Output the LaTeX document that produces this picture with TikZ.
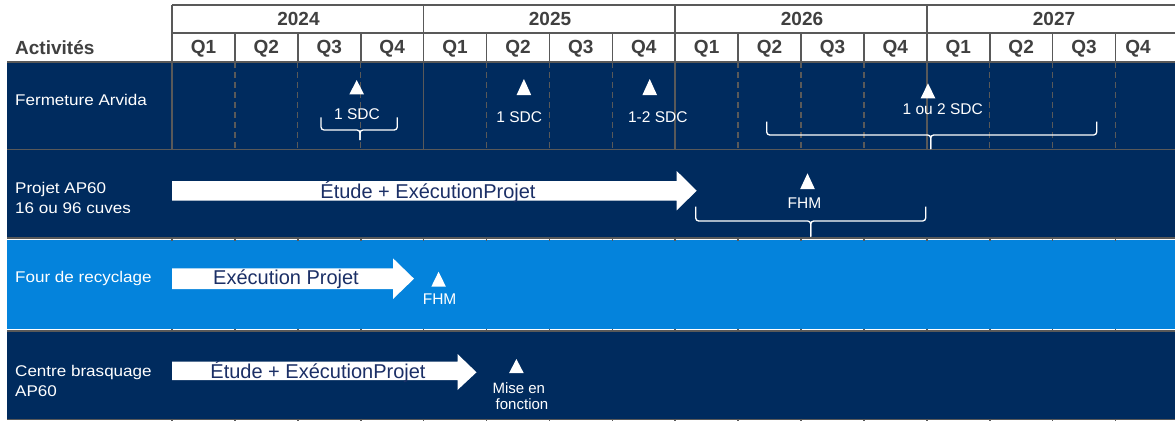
\documentclass[tikz,border=0pt]{standalone}
\usepackage{fontspec}
\setmainfont{Liberation Sans}
\newfontfamily\lblfont{Liberation Sans}[FakeStretch=1.1]
\definecolor{navy}{HTML}{002B5E}
\definecolor{lblue}{HTML}{0483DC}
\definecolor{gridgray}{HTML}{595959}
\definecolor{hdrtext}{HTML}{404040}
\definecolor{arrtext}{HTML}{1B2F66}
\newcommand{\mstri}[3]{\fill[white] (#1-7.3,#3) -- (#1+7.3,#3) -- (#1,#2) -- cycle;}
\begin{document}
\begin{tikzpicture}[x=1pt,y=-1pt,
  hdr/.style={font=\fontsize{19}{22}\selectfont\bfseries, text=hdrtext, inner sep=0, anchor=base},
  rowlbl/.style={font=\lblfont\fontsize{15.5}{19}\selectfont, text=white, inner sep=0, anchor=base west},
  mslbl/.style={font=\fontsize{15.5}{18}\selectfont, text=white, inner sep=0, anchor=base},
  arrtxt/.style={font=\fontsize{20}{24}\selectfont, text=arrtext, inner sep=0, anchor=base},
  gridline/.style={draw=gridgray, line width=1.6},
  dashline/.style={draw=gridgray, line width=1.3, dash pattern=on 6 off 4},
  bracket/.style={draw=white, line width=1.3, rounded corners=3},
  arrowbody/.style={fill=white}]
\useasboundingbox (0,0) rectangle (1175,421);
\fill[white] (0,0) rectangle (1175,421);

% rows
\fill[navy] (7,62) rectangle (1175,149.5);
\fill[navy] (7,149.5) rectangle (1175,238);
\fill[lblue] (7,239.8) rectangle (1175,329.2);
\fill[navy] (7,331) rectangle (1175,419.5);

% header grid
\draw[gridline] (172,5) -- (1175,5);
\draw[gridline] (172,33) -- (1175,33);
\foreach \i in {0,4,8,12} \draw[gridline] ({172+62.9*\i},5) -- ({172+62.9*\i},62);
\foreach \i in {1,2,3,5,6,7,9,10,11,13,14,15} \draw[gridline] ({172+62.9*\i},33) -- ({172+62.9*\i},62);
\draw[gridline] (7,62) -- (1175,62);

% row 1 grid
\foreach \i in {0,4,8,12} \draw[gridline] ({172+62.9*\i},62) -- ({172+62.9*\i},149.5);
\foreach \i in {1,2,3,5,6,7,9,10,11,13,14,15} \draw[dashline] ({172+62.9*\i},62) -- ({172+62.9*\i},149.5);

% row separators
\draw[gridline] (7,149.5) -- (1175,149.5);
\draw[gridline] (7,238) -- (1175,238);
\draw[white, line width=0.9] (7,239.6) -- (1175,239.6);
\draw[white, line width=0.9] (7,329.4) -- (1175,329.4);
\draw[gridline] (7,331.2) -- (1175,331.2);
\draw[gridline] (7,419.5) -- (1175,419.5);
\draw[white, line width=0.9] (7,420.7) -- (1175,420.7);
\foreach \i in {0,...,15} {
  \draw[gridline] ({172+62.9*\i},237) -- ({172+62.9*\i},240.5);
  \draw[gridline] ({172+62.9*\i},328.5) -- ({172+62.9*\i},332);
  \draw[gridline] ({172+62.9*\i},418.5) -- ({172+62.9*\i},421);
}

% header text
\node[hdr, anchor=base west] (act) at (15,54) {Activités};
\node[hdr] (y24) at (298.5,25) {2024};
\node[hdr] (y25) at (550,25) {2025};
\node[hdr] (y26) at (802,25) {2026};
\node[hdr] (y27) at (1054,25) {2027};
\foreach \i/\q in {0/Q1,1/Q2,2/Q3,3/Q4,4/Q1,5/Q2,6/Q3,7/Q4,8/Q1,9/Q2,10/Q3,11/Q4,12/Q1,13/Q2,14/Q3}
  \node[hdr] (q\i) at ({172+62.9*(\i+0.5)},53.5) {\q};
\node[hdr] (q15) at (1138,53.5) {Q4};

% row labels
\node[rowlbl] (r1) at (15,105) {Fermeture Arvida};
\node[rowlbl] (r2a) at (15,193) {Projet AP60};
\node[rowlbl] (r2b) at (15,213) {16 ou 96 cuves};
\node[rowlbl] (r3) at (15,282.5) {Four de recyclage};
\node[rowlbl] (r4a) at (15,376) {Centre brasquage};
\node[rowlbl] (r4b) at (15,396) {AP60};

% arrows
\path[arrowbody] (172,181) -- (676.7,181) -- (676.7,171) -- (696.7,190.7) -- (676.7,210.3) -- (676.7,200.7) -- (172,200.7) -- cycle;
\path[arrowbody] (172,268.3) -- (393,268.3) -- (393,258.3) -- (414,278.7) -- (393,299) -- (393,289) -- (172,289) -- cycle;
\path[arrowbody] (172,361.7) -- (457.5,361.7) -- (457.5,354) -- (476.5,372.3) -- (457.5,390) -- (457.5,380) -- (172,380) -- cycle;
\node[arrtxt] (a2) at (428,198.3) {Étude + ExécutionProjet};
\node[arrtxt] (a3) at (286,284.5) {Exécution Projet};
\node[arrtxt] (a4) at (318,378.5) {Étude + ExécutionProjet};

% milestones
\mstri{356.7}{80}{94.3}
\mstri{523.9}{79}{95}
\mstri{649.7}{79}{95}
\mstri{928}{83.3}{98.3}
\mstri{807.5}{173.3}{189}
\mstri{438.6}{271.7}{286.7}
\mstri{516.4}{359}{373}

\node[mslbl] (m1) at (357,119) {1 SDC};
\node[mslbl] (m2) at (519.3,122.7) {1 SDC};
\node[mslbl] (m3) at (657.8,122.7) {1-2 SDC};
\node[mslbl] (m4) at (942.7,114.3) {1 ou 2 SDC};
\node[mslbl] (m5) at (804.5,208.3) {FHM};
\node[mslbl] (m6) at (439.6,304) {FHM};
\node[mslbl, font=\fontsize{15}{18}\selectfont] (m7a) at (518.8,393.3) {Mise en};
\node[mslbl, font=\fontsize{15}{18}\selectfont] (m7b) at (522,409) {fonction};

% brackets
\draw[bracket] (321,117.3) -- (321,130) -- (360,130) -- (360,140);
\draw[bracket] (397.3,117.3) -- (397.3,130) -- (360,130) -- (360,140);
\draw[bracket] (766.7,121.7) -- (766.7,135) -- (930.7,135) -- (930.7,149);
\draw[bracket] (1096.7,121.7) -- (1096.7,135) -- (930.7,135) -- (930.7,149);
\draw[bracket] (695.7,206.7) -- (695.7,221) -- (810.7,221) -- (810.7,236.5);
\draw[bracket] (925.7,206.7) -- (925.7,221) -- (810.7,221) -- (810.7,236.5);
\end{tikzpicture}
\end{document}
